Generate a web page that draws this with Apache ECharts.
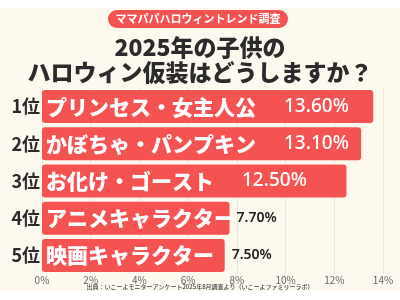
<!DOCTYPE html>
<html><head><meta charset="utf-8">
<script src="https://cdn.jsdelivr.net/npm/echarts@6/dist/echarts.min.js"></script>
<style>html,body{margin:0;padding:0;background:#fff;}#c{width:400px;height:300px;}</style>
</head><body><div id="c"></div>
<script>
const ranks = ['1位','2位','3位','4位','5位'];
const names = ['プリンセス・女主人公','かぼちゃ・パンプキン','お化け・ゴースト','アニメキャラクター','映画キャラクター'];
const values = [13.6, 13.1, 12.5, 7.7, 7.5];
const xTicks = [0,2,4,6,8,10,12,14];
const titleText = '2025年の子供の\nハロウィン仮装はどうしますか？';
const badgeText = 'ママパパハロウィントレンド調査';
const sourceText = '出典：いこーよモニターアンケート2025年8月調査より（いこーよファミリーラボ）';

const FONT = '"Noto Sans CJK JP", "Noto Sans", sans-serif';
const NUM = '"Noto Sans", "Roboto", sans-serif';
const chart = echarts.init(document.getElementById('c'), null, {renderer:'canvas'});
const fmt = v => v.toFixed(2) + '%';
const outLabel = {
  show:true, position:'right', distance:7,
  formatter: p => fmt(values[p.dataIndex]),
  rich:{o:{}},
  color:'#222', fontSize:14, fontWeight:600, fontFamily:NUM
};

chart.setOption({
  backgroundColor: '#ffffff',
  animation: false,
  textStyle: {fontFamily: FONT},
  graphic: [
    {type:'rect', z:-10, shape:{x:0,y:8,width:400,height:283}, style:{fill:'#fdf9ef'}},
    {type:'rect', shape:{x:108,y:10,width:180,height:18,r:9}, style:{fill:'#f55252'}},
    {type:'text', x:198, y:19, style:{text:badgeText, fill:'#fff', font:'bold 11px ' + FONT, align:'center', verticalAlign:'middle'}},
    {type:'text', x:200, y:287, style:{text:sourceText, fill:'#444', font:'500 6px ' + FONT, align:'center', verticalAlign:'middle'}}
  ],
  title: {
    text: titleText, left:'center', top:30,
    textStyle:{fontFamily:FONT, fontSize:23, fontWeight:900, color:'#2b2b2b', lineHeight:25}
  },
  grid: {left:42, right:17, top:88, bottom:26, containLabel:false},
  xAxis: {
    type:'value', min:0, max:14, interval:2,
    axisLine:{show:false}, axisTick:{show:false},
    splitLine:{show:true, lineStyle:{color:'#ece6d8', width:1}},
    axisLabel:{formatter: v => xTicks.includes(v) ? v + '%' : '', color:'#666', fontSize:10, margin:1, fontFamily:FONT}
  },
  yAxis: {
    type:'category', data:ranks, inverse:true,
    axisLine:{show:false}, axisTick:{show:false},
    axisLabel:{color:'#2b2b2b', fontSize:18, fontWeight:'bold', margin:2, fontFamily:FONT}
  },
  series: [
    {
      type:'bar', barWidth:33,
      data: values.map((v,i)=>({value:v})),
      itemStyle:{color:'#f55252', borderRadius:3},
      label:{
        show:true, position:'insideLeft', distance:4,
        formatter: p => {
          const i = p.dataIndex;
          return i < 3 ? '{n|' + names[i] + '}{v|' + fmt(values[i]) + '}' : '{n|' + names[i] + '}';
        },
        rich:{
          n:{color:'#fff', fontSize:21, fontWeight:900, fontFamily:FONT},
          v:{color:'#fff', fontSize:19, fontWeight:500, fontFamily:NUM, padding:[0,0,0,28]}
        }
      }
    },
    {
      type:'bar', barWidth:33, barGap:'-100%',
      data: values.map((v,i)=>({value:v, label: i>=3 ? outLabel : {show:false}})),
      itemStyle:{color:'rgba(0,0,0,0)'},
      label: outLabel
    }
  ]
});
</script></body></html>
